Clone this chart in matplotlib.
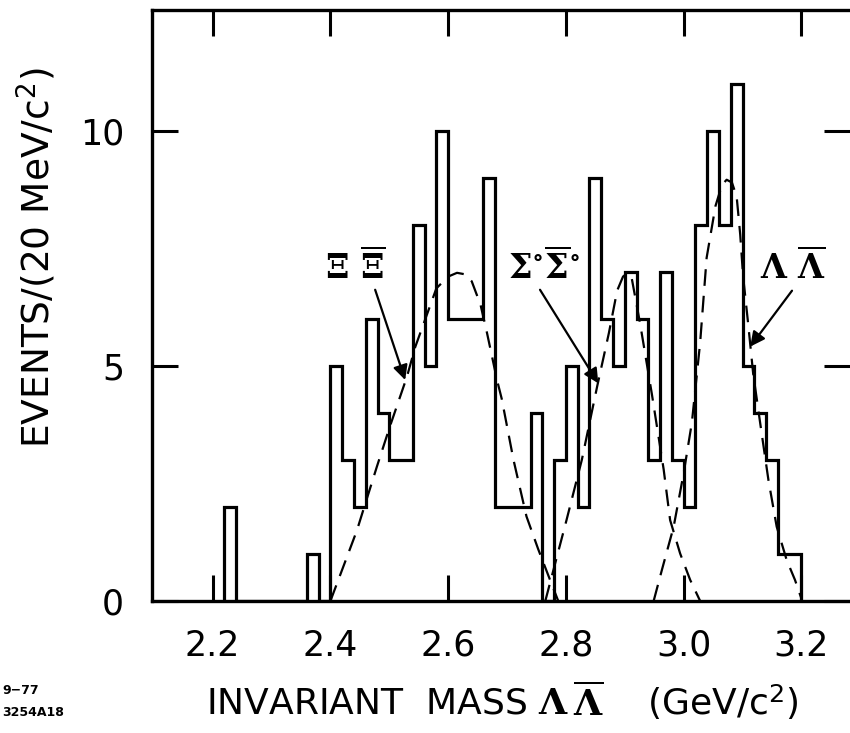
import numpy as np
import matplotlib
matplotlib.use("Agg")
import matplotlib.pyplot as plt

plt.rcParams['font.family'] = ['DejaVu Sans']
plt.rcParams['mathtext.fontset'] = 'custom'
plt.rcParams['mathtext.rm'] = 'DejaVu Serif:bold'
plt.rcParams['mathtext.it'] = 'DejaVu Serif:bold'
plt.rcParams['mathtext.bf'] = 'DejaVu Serif:bold'
plt.rcParams['mathtext.sf'] = 'DejaVu Sans'

# ---------------- data ----------------
bin_start = 2.22          # GeV/c^2, lower edge of first bin
bin_width = 0.02          # 20 MeV/c^2
counts = [2, 0, 0, 0, 0, 0, 0, 1, 0,          # 2.22 - 2.40
          5, 3, 2, 6, 4, 3, 3, 8, 5, 10,      # 2.40 - 2.60
          6, 6, 6, 9, 2, 2, 2, 4, 0, 3,       # 2.60 - 2.80
          5, 2, 9, 6, 5, 7, 6, 3, 7, 3,       # 2.80 - 3.00
          2, 8, 10, 8, 11, 5, 4, 3, 1, 1]     # 3.00 - 3.20

# dashed fitted curves
xi_x = [2.400, 2.445, 2.479, 2.501, 2.530, 2.544, 2.580, 2.600, 2.615, 2.628, 2.640,
        2.655, 2.666, 2.683, 2.691, 2.711, 2.733, 2.753, 2.773, 2.787]
xi_y = [0.0, 1.5, 2.86, 3.71, 4.77, 5.4, 6.65, 6.9, 6.98, 6.95, 6.8,
        6.3, 5.7, 4.7, 4.3, 3.0, 1.8, 1.1, 0.45, 0.0]

sig_x = [2.765, 2.801, 2.827, 2.853, 2.873, 2.887, 2.897, 2.904, 2.912, 2.926, 2.946,
         2.966, 2.977, 2.994, 3.011, 3.028]
sig_y = [0.0, 1.72, 3.0, 4.56, 5.7, 6.6, 6.9, 6.97, 6.85, 5.9, 4.4,
         2.8, 1.72, 1.01, 0.45, 0.0]

lam_x = [2.949, 2.963, 2.983, 3.000, 3.014, 3.028, 3.039, 3.054, 3.065, 3.073, 3.082,
         3.090, 3.096, 3.101, 3.110, 3.118, 3.130, 3.144, 3.158, 3.175, 3.189, 3.200]
lam_y = [0.0, 0.66, 1.58, 2.72, 3.8, 5.5, 7.3, 8.4, 8.85, 8.96, 8.9,
         8.6, 7.8, 6.9, 5.84, 4.84, 3.78, 2.57, 1.58, 0.87, 0.45, 0.05]

x_ticks = [2.2, 2.4, 2.6, 2.8, 3.0, 3.2]
x_ticklabels = ['2.2', '2.4', '2.6', '2.8', '3.0', '3.2']
y_ticks = [0, 5, 10]
y_ticklabels = ['0', '5', '10']

labels = [r'$\Xi\ \overline{\Xi}$',
          r'$\Sigma^{\circ}\overline{\Sigma}^{\circ}$',
          r'$\Lambda\ \overline{\Lambda}$']
label_pos = [(2.442, 7.1), (2.763, 7.1), (3.186, 7.1)]
arrow_tail = [(2.476, 6.62), (2.756, 6.62), (3.184, 6.6)]
arrow_head = [(2.527, 4.7), (2.855, 4.63), (3.113, 5.41)]

# ---------------- figure ----------------
fig = plt.figure(figsize=(8.5, 7.33), dpi=100)
ax = fig.add_axes([152 / 850, 1 - 601 / 733, 1 - 152 / 850, (601 - 10) / 733])

edges = bin_start + bin_width * np.arange(len(counts) + 1)
ax.stairs(counts, edges, color='black', linewidth=2.3, baseline=0)

dash = (0, (7.5, 4.5))
for cx, cy in [(xi_x, xi_y), (sig_x, sig_y), (lam_x, lam_y)]:
    ax.plot(cx, cy, color='black', linewidth=1.6, linestyle=dash)

for txt, pos, tail, head in zip(labels, label_pos, arrow_tail, arrow_head):
    ax.text(pos[0], pos[1], txt, fontsize=24, ha='center', va='center')
    ax.annotate('', xy=head, xytext=tail,
                arrowprops=dict(arrowstyle='-|>', color='black', lw=1.6,
                                mutation_scale=22, shrinkA=0, shrinkB=0))

ax.set_xlim(2.097, 3.2825)
ax.set_ylim(0, 12.57)

ax.set_xticks(x_ticks)
ax.set_xticklabels(x_ticklabels)
ax.set_yticks(y_ticks)
ax.set_yticklabels(y_ticklabels)
ax.tick_params(axis='both', direction='in', length=19, width=2.2,
               labelsize=25, top=True, right=True)
ax.tick_params(axis='x', pad=20)
ax.tick_params(axis='y', pad=20)

for s in ['left', 'bottom', 'top']:
    ax.spines[s].set_linewidth(2.4)
ax.spines['right'].set_visible(False)

fig.text(36 / 850, 1 - 258 / 733, r'EVENTS/(20 MeV/c$^{\mathsf{2}}$)',
         rotation=90, ha='center', va='center', fontsize=27)
fig.text(502 / 850, 1 - 700 / 733,
         r'INVARIANT  MASS $\Lambda\,\overline{\Lambda}$    (GeV/c$^{\mathsf{2}}$)',
         ha='center', va='center', fontsize=26)
fig.text(2 / 850, 1 - 690 / 733, '9−77', fontsize=9, fontweight='bold',
         ha='left', va='center')
fig.text(2 / 850, 1 - 712 / 733, '3254A18', fontsize=9, fontweight='bold',
         ha='left', va='center')

fig.savefig('out.png', dpi=100)
